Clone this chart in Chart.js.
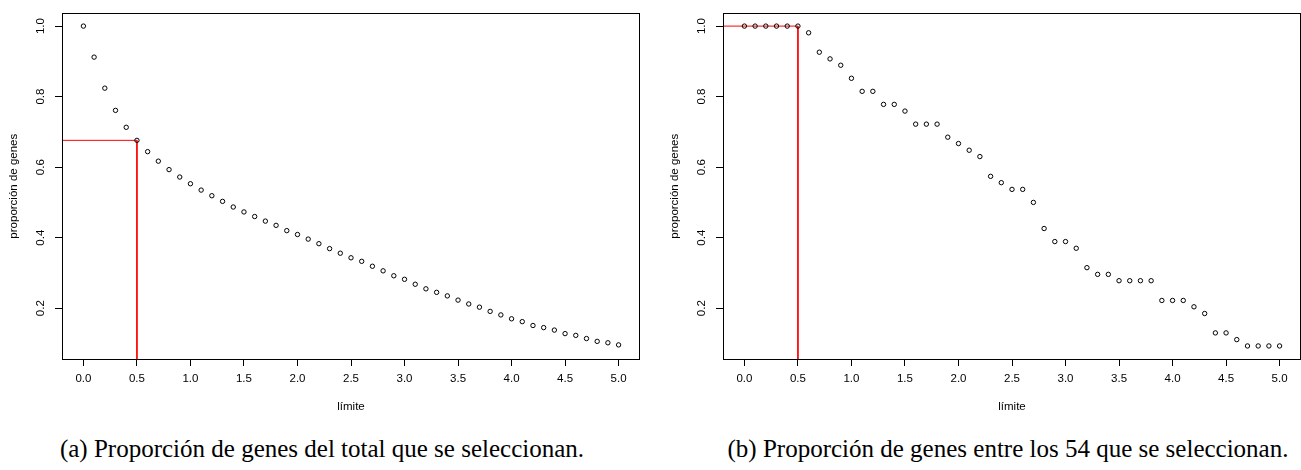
<!DOCTYPE html>
<html>
<head>
<meta charset="utf-8">
<script src="https://cdn.jsdelivr.net/npm/chart.js@4/dist/chart.umd.min.js"></script>
<style>
  html, body { margin: 0; padding: 0; background: #fff; width: 1301px; height: 470px; overflow: hidden; }
  .panel { position: absolute; top: 0; }
  .cap { position: absolute; top: 435px; width: 650px; text-align: center;
         font-family: "Liberation Serif", "Times New Roman", serif; font-size: 25px; color: #000; white-space: nowrap; }
</style>
</head>
<body>
<canvas id="graf1" class="panel" width="650" height="420" style="left:0px"></canvas>
<canvas id="graf2" class="panel" width="650" height="420" style="left:661px"></canvas>
<div class="cap" style="left:-3px">(a) Proporción de genes del total que se seleccionan.</div>
<div class="cap" style="left:683px">(b) Proporción de genes entre los 54 que se seleccionan.</div>
<script>
// valores del límite (eje x)
const limites = [0.0, 0.1, 0.2, 0.3, 0.4, 0.5, 0.6, 0.7, 0.8, 0.9,
                 1.0, 1.1, 1.2, 1.3, 1.4, 1.5, 1.6, 1.7, 1.8, 1.9,
                 2.0, 2.1, 2.2, 2.3, 2.4, 2.5, 2.6, 2.7, 2.8, 2.9,
                 3.0, 3.1, 3.2, 3.3, 3.4, 3.5, 3.6, 3.7, 3.8, 3.9,
                 4.0, 4.1, 4.2, 4.3, 4.4, 4.5, 4.6, 4.7, 4.8, 4.9, 5.0];

// proporción de genes del total
const propTotal = [1.000, 0.912, 0.824, 0.761, 0.713, 0.676, 0.644, 0.617, 0.593, 0.572,
                   0.553, 0.535, 0.519, 0.503, 0.487, 0.473, 0.460, 0.447, 0.435, 0.420,
                   0.409, 0.396, 0.383, 0.369, 0.356, 0.343, 0.333, 0.319, 0.306, 0.292,
                   0.282, 0.268, 0.255, 0.245, 0.235, 0.223, 0.212, 0.203, 0.191, 0.181,
                   0.170, 0.162, 0.151, 0.145, 0.138, 0.128, 0.123, 0.114, 0.106, 0.102, 0.096];

// proporción de genes entre los 54
const prop54 = [1.000, 1.000, 1.000, 1.000, 1.000, 1.000, 0.981, 0.926, 0.907, 0.889,
                0.852, 0.815, 0.815, 0.778, 0.778, 0.759, 0.722, 0.722, 0.722, 0.685,
                0.667, 0.648, 0.630, 0.574, 0.556, 0.537, 0.537, 0.500, 0.426, 0.389,
                0.389, 0.370, 0.315, 0.296, 0.296, 0.278, 0.278, 0.278, 0.278, 0.222,
                0.222, 0.222, 0.204, 0.185, 0.130, 0.130, 0.111, 0.093, 0.093, 0.093, 0.093];

const corteLimite = 0.5;
const xTicks = [0.0, 0.5, 1.0, 1.5, 2.0, 2.5, 3.0, 3.5, 4.0, 4.5, 5.0];
const yTicks = [0.2, 0.4, 0.6, 0.8, 1.0];

const fuente = { family: "'Liberation Sans', Arial, sans-serif", size: 11.5 };

// marco alrededor del área de dibujo
const marco = {
  id: 'marco',
  afterDraw(chart) {
    const a = chart.chartArea, c = chart.ctx;
    c.save();
    c.strokeStyle = '#000';
    c.lineWidth = 1;
    c.strokeRect(Math.round(a.left) + 0.5, Math.round(a.top) + 0.5,
                 Math.round(a.right - a.left) - 1, Math.round(a.bottom - a.top));
    c.restore();
  }
};

function dibujar(id, valores) {
  const corte = valores[limites.indexOf(corteLimite)];
  new Chart(document.getElementById(id), {
    type: 'scatter',
    data: {
      datasets: [
        {
          data: limites.map((x, i) => ({ x: x, y: valores[i] })),
          pointStyle: 'circle',
          pointRadius: 2.2,
          pointBorderWidth: 1,
          borderColor: '#000',
          backgroundColor: 'rgba(0,0,0,0)'
        },
        {
          type: 'line',
          data: [{ x: -1, y: corte }, { x: corteLimite, y: corte }, { x: corteLimite, y: -1 }],
          borderColor: '#ff0000',
          borderWidth: 1,
          pointRadius: 0,
          fill: false,
          tension: 0
        }
      ]
    },
    options: {
      responsive: false,
      animation: false,
      devicePixelRatio: 1,
      layout: { padding: { top: 11, right: 10, left: 0, bottom: 0 } },
      plugins: { legend: { display: false }, tooltip: { enabled: false } },
      scales: {
        x: {
          type: 'linear',
          min: -0.2,
          max: 5.2,
          afterBuildTicks: s => { s.ticks = xTicks.map(v => ({ value: v })); },
          afterFit: s => { s.height = 61; },
          border: { display: false },
          grid: { drawOnChartArea: false, drawTicks: true, tickLength: 7, color: '#000' },
          ticks: { font: fuente, color: '#000', padding: 6, maxRotation: 0,
                   callback: v => Number(v).toFixed(1) },
          title: { display: true, text: 'límite', font: fuente, color: '#000',
                   padding: { top: 0, bottom: 6 } }
        },
        y: {
          type: 'linear',
          min: 0.056,
          max: 1.036,
          afterBuildTicks: s => { s.ticks = yTicks.map(v => ({ value: v })); },
          afterFit: s => { s.width = 62; },
          border: { display: false },
          grid: { drawOnChartArea: false, drawTicks: true, tickLength: 7, color: '#000' },
          ticks: { font: fuente, color: '#000', padding: 6.5, minRotation: 90, maxRotation: 90,
                   crossAlign: 'center', callback: v => Number(v).toFixed(1) },
          title: { display: true, text: 'proporción de genes', font: fuente, color: '#000',
                   padding: { top: 7, bottom: 0 } }
        }
      }
    },
    plugins: [marco]
  });
}

dibujar('graf1', propTotal);
dibujar('graf2', prop54);
</script>
</body>
</html>
